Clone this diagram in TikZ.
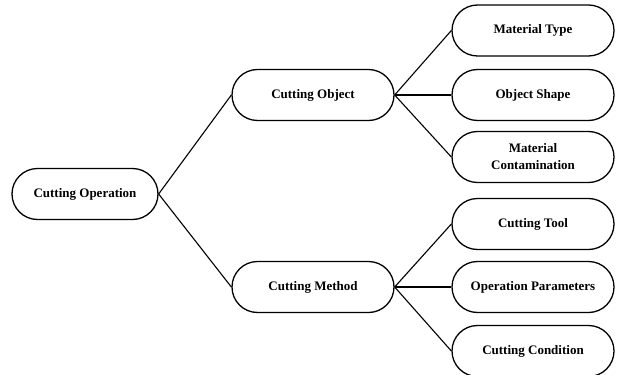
\documentclass[tikz,border=0pt]{standalone}
\usepackage{fontspec}
\setmainfont{Liberation Serif}
\begin{document}
\begin{tikzpicture}[x=1pt,y=-1pt,
  box/.style={draw=black, line width=1.3pt, rounded corners=25.5pt, minimum height=51pt, inner sep=2pt, align=center, font=\fontsize{13}{17}\selectfont\bfseries},
  rootbox/.style={box, minimum width=146pt},
  midbox/.style={box, minimum width=162pt},
  leafbox/.style={box, minimum width=162pt},
  link/.style={line width=1.1pt}]
\useasboundingbox (0,0) rectangle (617,374);
\node[rootbox] (root) at (85,194) {Cutting Operation};
\node[midbox] (obj) at (313,95) {Cutting Object};
\node[midbox] (meth) at (313,287) {Cutting Method};
\node[leafbox] (l1) at (533,30.5) {Material Type};
\node[leafbox] (l2) at (533,95) {Object Shape};
\node[leafbox] (l3) at (533,157) {Material\\Contamination};
\node[leafbox] (l4) at (533,224) {Cutting Tool};
\node[leafbox] (l5) at (533,287) {Operation Parameters};
\node[leafbox] (l6) at (533,351) {Cutting Condition};
\draw[link] (root.east) -- (obj.west);
\draw[link] (root.east) -- (meth.west);
\draw[link] (obj.east) -- (l1.west);
\draw[link] (obj.east) -- (l2.west);
\draw[link] (obj.east) -- (l3.west);
\draw[link] (meth.east) -- (l4.west);
\draw[link] (meth.east) -- (l5.west);
\draw[link] (meth.east) -- (l6.west);
\end{tikzpicture}
\end{document}
